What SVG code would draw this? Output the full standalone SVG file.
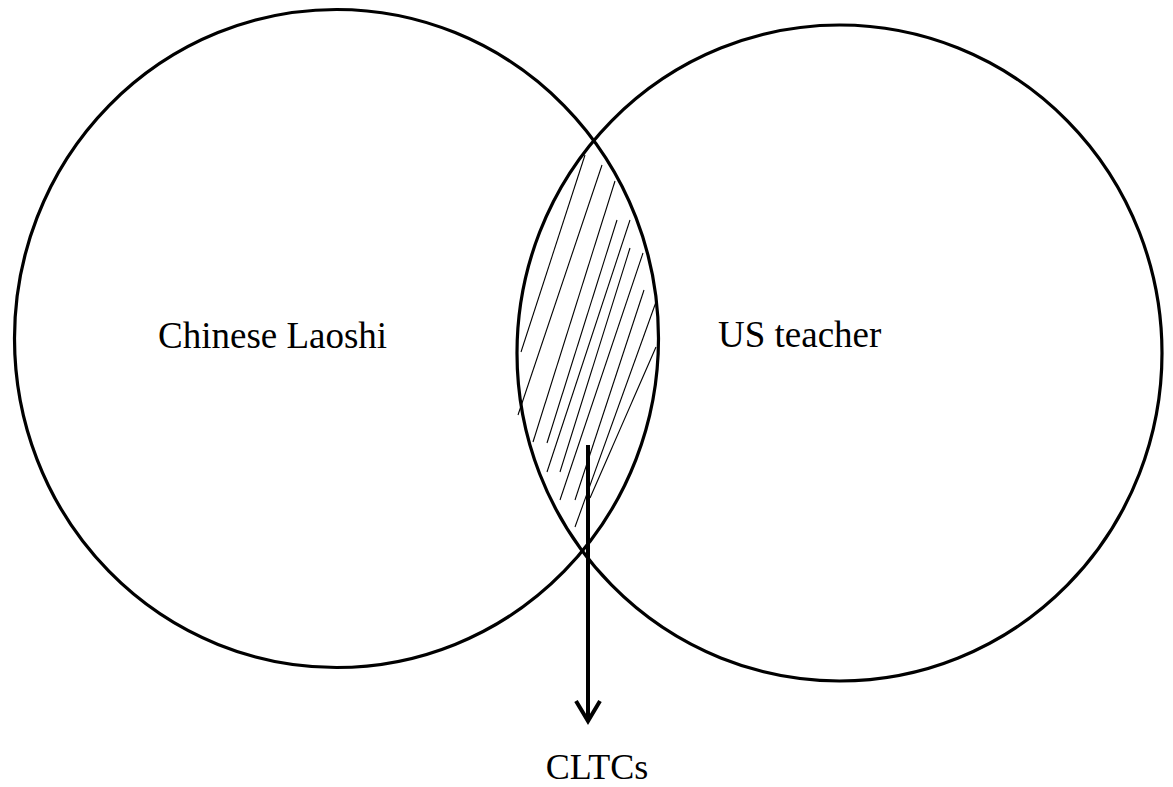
<svg xmlns="http://www.w3.org/2000/svg" width="1173" height="787" viewBox="0 0 1173 787">
<style>
.circ{fill:none;stroke:#000;stroke-width:3.2}
.hatch{stroke:#000;stroke-width:1.1;fill:none}
.lbl{font-family:"Liberation Serif","Times New Roman",serif;font-size:37px;fill:#000}
.conn{stroke:#000;stroke-width:4;fill:none}
</style>
<rect width="1173" height="787" fill="#fff"/>
<g id="node-chinese-laoshi">
<ellipse class="circ" cx="336.5" cy="338.5" rx="322" ry="329"/>
<text class="lbl" x="158" y="348">Chinese Laoshi</text>
</g>
<g id="node-us-teacher">
<ellipse class="circ" cx="839.5" cy="353" rx="322.5" ry="328"/>
<text class="lbl" x="718" y="347">US teacher</text>
</g>
<g id="node-overlap">
<g class="hatch">
<line x1="585" y1="155" x2="521" y2="352"/>
<line x1="602" y1="165" x2="518" y2="415"/>
<line x1="615" y1="181" x2="533" y2="442"/>
<line x1="617" y1="220" x2="547" y2="443"/>
<line x1="630" y1="220" x2="547" y2="472"/>
<line x1="630" y1="248" x2="560" y2="472"/>
<line x1="643" y1="253" x2="560" y2="500"/>
<line x1="644" y1="290" x2="575" y2="500"/>
<line x1="656" y1="302" x2="575" y2="527"/>
<line x1="656" y1="347" x2="590" y2="498"/>
</g>
</g>
<g id="connectors">
<line class="conn" x1="588" y1="445" x2="588" y2="720"/>
<polyline class="conn" points="576,701 588,721 600,701"/>
</g>
<g id="node-cltcs">
<text class="lbl" x="597" y="779" text-anchor="middle" style="font-size:36px">CLTCs</text>
</g>
</svg>
